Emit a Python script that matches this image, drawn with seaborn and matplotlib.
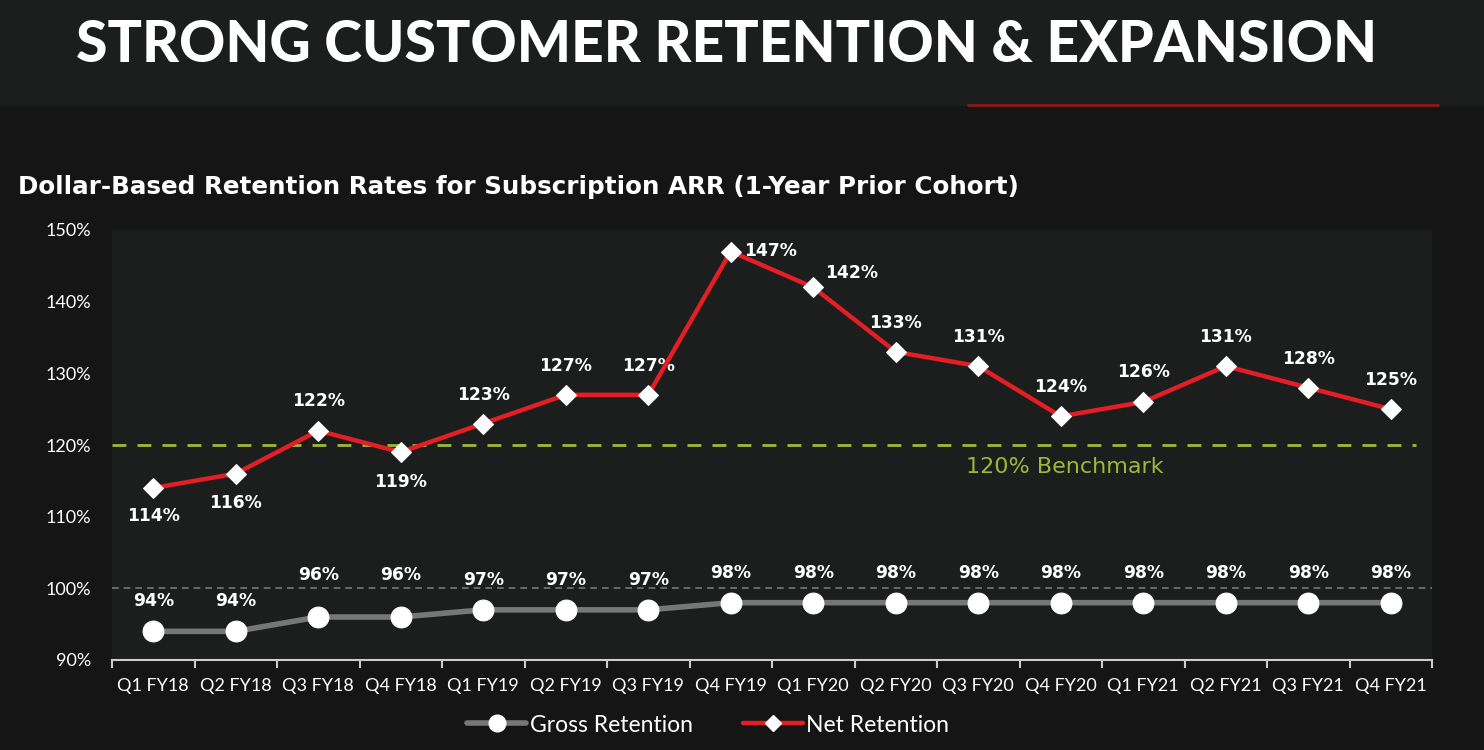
import matplotlib
matplotlib.use("Agg")
import matplotlib.pyplot as plt
import seaborn as sns
import pandas as pd
import numpy as np
from matplotlib.lines import Line2D

quarters = ["Q1 FY18", "Q2 FY18", "Q3 FY18", "Q4 FY18", "Q1 FY19", "Q2 FY19", "Q3 FY19", "Q4 FY19",
            "Q1 FY20", "Q2 FY20", "Q3 FY20", "Q4 FY20", "Q1 FY21", "Q2 FY21", "Q3 FY21", "Q4 FY21"]
gross_retention = [94, 94, 96, 96, 97, 97, 97, 98, 98, 98, 98, 98, 98, 98, 98, 98]
net_retention = [114, 116, 122, 119, 123, 127, 127, 147, 142, 133, 131, 124, 126, 131, 128, 125]
y_ticks = [90, 100, 110, 120, 130, 140, 150]
benchmark = 120

title = "STRONG CUSTOMER RETENTION & EXPANSION"
subtitle = "Dollar-Based Retention Rates for Subscription ARR (1-Year Prior Cohort)"

sns.set_theme(style="dark")
plt.rcParams['font.family'] = ['Lato', 'DejaVu Sans']

BG = "#151515"
HEADER = "#1c1d1d"
PLOT_BG = "#1c1d1d"
RED = "#e31e24"
GRAY = "#777777"
GREEN = "#9fb83a"
PX = 0.72  # pixels -> points at dpi 100

fig = plt.figure(figsize=(14.84, 7.5), dpi=100, facecolor=BG)
fig.patches.append(plt.Rectangle((0, 1 - 105 / 750), 1, 105 / 750, transform=fig.transFigure,
                                 color=HEADER, zorder=0))
fig.add_artist(Line2D([968 / 1484, 1438 / 1484], [1 - 105 / 750] * 2, transform=fig.transFigure,
                      color="#8b1a1a", lw=2))
fig.text(727 / 1484, 1 - 45 / 750, title, color="white", fontsize=41, fontweight="black",
         ha="center", va="center")
fig.text(18 / 1484, 1 - 187 / 750, subtitle, color="white", fontsize=17.7, fontweight="bold",
         ha="left", va="center", family="DejaVu Sans")

ax = fig.add_axes([112 / 1484, 1 - 660 / 750, 1320 / 1484, 430 / 750])
ax.set_facecolor(PLOT_BG)

df = pd.DataFrame({"x": np.arange(len(quarters)), "gross": gross_retention, "net": net_retention})

ax.axhline(100, color="#777777", lw=1.2, ls=(0, (4, 3)), zorder=1)
ax.axhline(benchmark, xmax=0.988, color=GREEN, lw=2, ls=(0, (5, 4)), zorder=1)
ax.text(11.05, benchmark - 3.1, "120% Benchmark", color=GREEN, fontsize=16, ha="center",
        va="center", family="DejaVu Sans")

sns.lineplot(data=df, x="x", y="gross", ax=ax, color=GRAY, lw=4, marker="o", markersize=15,
             markerfacecolor="white", markeredgecolor="white", zorder=3)
sns.lineplot(data=df, x="x", y="net", ax=ax, color=RED, lw=3.2, marker="D", markersize=10,
             markerfacecolor="white", markeredgecolor="white", zorder=4)

label_font = dict(ha="center", va="center", color="white", fontsize=12.3, fontweight="bold",
                  family="DejaVu Sans")
gross_offsets = [30, 30, 42, 42, 30, 30, 30, 30, 30, 30, 30, 30, 30, 30, 30, 30]
for i, v in enumerate(gross_retention):
    ax.annotate(f"{v}%", (i, v), xytext=(0, gross_offsets[i] * PX), textcoords="offset points",
                **label_font)
net_offsets = [(0, -28), (0, -29), (0, 30), (0, -30), (0, 29), (0, 29), (0, 29), (40, 0), (38, 14),
               (0, 29), (0, 29), (0, 29), (0, 30), (0, 29), (0, 29), (0, 29)]
for i, v in enumerate(net_retention):
    dx, dy = net_offsets[i]
    ax.annotate(f"{v}%", (i, v), xytext=(dx * PX, dy * PX), textcoords="offset points",
                **label_font)

ax.set_xlim(-0.5, len(quarters) - 0.5)
ax.set_ylim(90, 150)
ax.set_yticks(y_ticks)
ax.set_yticklabels([f"{t}%" for t in y_ticks], color="white", fontsize=13)
ax.set_xticks(np.arange(len(quarters)))
ax.set_xticklabels(quarters, color="white", fontsize=13)
ax.set_xticks(np.arange(len(quarters) + 1) - 0.5, minor=True)
ax.tick_params(axis="x", which="major", bottom=False, length=0, pad=13)
ax.tick_params(axis="x", which="minor", bottom=True, length=6, color="#cccccc", width=1.5,
               direction="out")
ax.tick_params(axis="y", left=False, length=0, pad=15)
ax.set_xlabel("")
ax.set_ylabel("")
ax.grid(False)
for s in ["top", "right", "left"]:
    ax.spines[s].set_visible(False)
ax.spines["bottom"].set_visible(True)
ax.spines["bottom"].set_color("#cccccc")
ax.spines["bottom"].set_linewidth(1.5)

handles = [Line2D([], [], color=GRAY, lw=4, marker="o", markersize=12, markerfacecolor="white",
                  markeredgecolor="white"),
           Line2D([], [], color=RED, lw=3.2, marker="D", markersize=8, markerfacecolor="white",
                  markeredgecolor="white")]
fig.legend(handles, ["Gross Retention", "Net Retention"], loc="center",
           bbox_to_anchor=(708 / 1484, 1 - 725 / 750), ncol=2, frameon=False, fontsize=16.5,
           labelcolor="white", handlelength=2.6, handletextpad=0.15, columnspacing=2.2)

fig.savefig("out.png", dpi=100, facecolor=BG)
